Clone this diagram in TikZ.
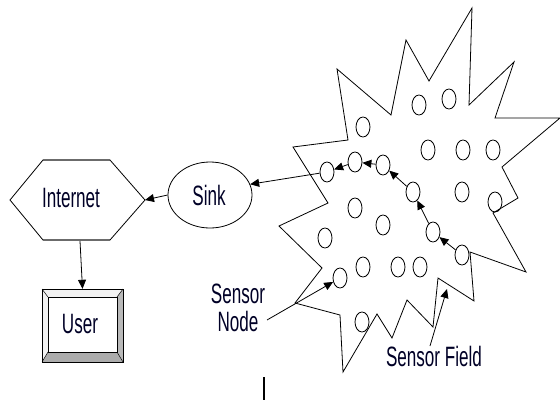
\documentclass[tikz,border=0pt]{standalone}
\usepackage{fontspec}
\setmainfont{Liberation Sans}[FakeStretch=0.61]
\usetikzlibrary{arrows.meta,shapes.geometric}
\begin{document}
\begin{tikzpicture}[x=1pt,y=-1pt,
  sn/.style={draw, ellipse, minimum width=14pt, minimum height=20pt, inner sep=0pt, line width=0.8pt},
  arr/.style={-{Triangle[length=9pt,width=8pt]}, line width=0.8pt},
  lbl/.style={font=\fontsize{28}{28}\selectfont, inner sep=0pt, text=black!85!blue},
  outline/.style={line width=0.8pt}]
\useasboundingbox (0,0) rectangle (560,407);
% sensor field (star)
\draw[outline, line join=miter] (472,8) -- (469,105) -- (514,62) -- (495,118) -- (560,118) -- (502,167) -- (518,198) -- (493,213) -- (526,272) -- (470,252) -- (474,301) -- (438,278) -- (433,327) -- (407,300) -- (392,338) -- (377,314) -- (343,372) -- (340,315) -- (295,303) -- (322,268) -- (279,226) -- (328,203) -- (293,147) -- (348,140) -- (337,69) -- (391,115) -- (406,40) -- (429,81) -- cycle;
% sensor nodes
\foreach \n/\x/\y in {c1/419/105, c2/449/99, c3/363/127, c4/428/150, c5/463/150, c6/493/150, c7/327/172, c8/355/162, c9/383/165, c10/413/192, c11/462/192, c12/495/202, c13/355/208, c14/383/225, c15/325/238, c16/433/232, c17/462/255, c18/363/267, c19/340/278, c20/398/267, c21/420/267, c22/362/322}
  \node[sn] (\n) at (\x,\y) {};
% chain of hops
\draw[arr] (c17) -- (c16);
\draw[arr] (c16) -- (c10);
\draw[arr] (c10) -- (c9);
\draw[arr] (c9) -- (c8);
\draw[arr] (c8) -- (c7);
% sink
\node[draw, ellipse, minimum width=84pt, minimum height=66pt, inner sep=0pt, outline] (sink) at (210,195) {};
\node[lbl] at (209,195) {Sink};
\draw[arr] (c7) -- (sink.15);
% internet hexagon
\coordinate (h1) at (10,200);
\coordinate (h2) at (43,160);
\coordinate (h3) at (110,160);
\coordinate (inetR) at (145,200);
\coordinate (h5) at (110,240);
\coordinate (h6) at (43,240);
\draw[gray!70, line width=2.6pt] (h2) -- (h3);
\draw[gray!70, line width=2.6pt] (h6) -- (h5);
\draw[outline, line join=miter] (h1) -- (h2) -- (h3) -- (inetR) -- (h5) -- (h6) -- cycle;
\node[lbl] (inet) at (71,198) {Internet};
\draw[arr] (sink.west) -- (inetR);
% user box
\node[minimum width=81pt, minimum height=73pt, inner sep=0pt] (user) at (82.5,325.5) {};
\coordinate (uo1) at (42,289);
\coordinate (uo2) at (123,289);
\coordinate (uo3) at (123,362);
\coordinate (uo4) at (42,362);
\coordinate (ui1) at (48,297);
\coordinate (ui2) at (117,297);
\coordinate (ui3) at (117,352);
\coordinate (ui4) at (48,352);
\fill[gray!10] (uo1) -- (uo2) -- (ui2) -- (ui1) -- cycle;
\fill[gray!10] (uo1) -- (ui1) -- (ui4) -- (uo4) -- cycle;
\fill[gray!55] (uo2) -- (uo3) -- (ui3) -- (ui2) -- cycle;
\fill[gray!65] (uo4) -- (uo3) -- (ui3) -- (ui4) -- cycle;
\draw[outline] (uo1) -- (uo2) -- (uo3) -- (uo4) -- cycle;
\draw[outline] (ui1) -- (ui2) -- (ui3) -- (ui4) -- cycle;
\draw[line width=0.5pt] (uo1) -- (ui1) (uo2) -- (ui2) (uo3) -- (ui3) (uo4) -- (ui4);
\node[lbl] at (80,324) {User};
\coordinate (inetB) at (80,241);
\draw[arr] (inetB) -- (user.north);
% labels
\node[lbl, align=center] (snode) at (238,308) {Sensor\\Node};
\coordinate (snodeA) at (267,320);
\draw[arr] (snodeA) -- (c19);
\node[lbl] (sfield) at (434,356) {Sensor Field};
\coordinate (sfieldA) at (430,346);
\coordinate (sfieldT) at (447,289);
\draw[arr] (sfieldA) -- (sfieldT);
% stray vertical mark
\coordinate (m1) at (264,377);
\coordinate (m2) at (264,400);
\draw[line width=1.6pt] (m1) -- (m2);
\end{tikzpicture}
\end{document}
